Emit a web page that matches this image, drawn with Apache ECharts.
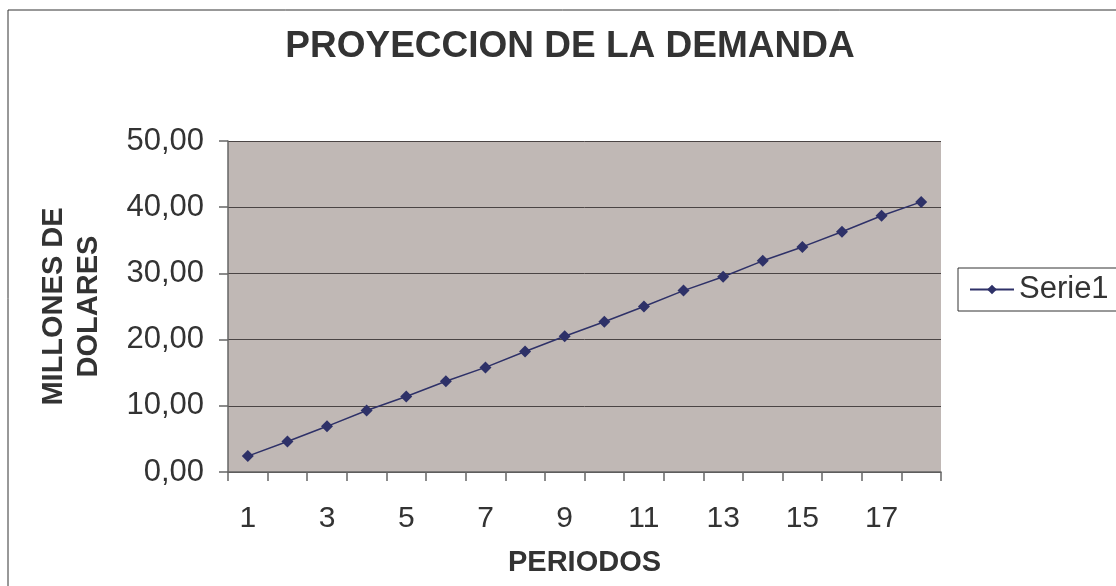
<!DOCTYPE html>
<html>
<head>
<meta charset="utf-8">
<script src="https://cdn.jsdelivr.net/npm/echarts@6/dist/echarts.min.js"></script>
<style>
  html, body { margin: 0; padding: 0; background: #fff; }
  #chart { width: 1116px; height: 586px; }
</style>
</head>
<body>
<div id="chart"></div>
<script>
// datos
const periodos = ['1', '2', '3', '4', '5', '6', '7', '8', '9', '10', '11', '12', '13', '14', '15', '16', '17', '18']
const demanda = [2.4, 4.6, 6.9, 9.3, 11.4, 13.7, 15.8, 18.2, 20.5, 22.7, 25.0, 27.4, 29.5, 31.9, 34.0, 36.3, 38.7, 40.8]

const chart = echarts.init(document.getElementById('chart'))
chart.setOption({
  backgroundColor: '#ffffff',
  animation: false,
  title: {
    text: 'PROYECCION DE LA DEMANDA',
    left: 565,
    textAlign: 'center',
    top: 23,
    textStyle: {
      color: '#333',
      fontFamily: 'Liberation Sans',
      fontSize: 37,
      fontWeight: 'bold'
    }
  },
  graphic: [{
    type: 'rect',
    shape: { x: 8, y: 10, width: 1130, height: 600 },
    style: { fill: 'none', stroke: '#333', lineWidth: 1 },
    silent: true
  }],
  legend: {
    left: 958,
    top: 268,
    orient: 'vertical',
    padding: [6, 60, 6, 11],
    borderColor: '#333',
    borderWidth: 1,
    itemWidth: 44,
    itemHeight: 12,
    itemGap: 4,
    textStyle: { color: '#333', fontFamily: 'Liberation Sans', fontSize: 31 },
    data: ['Serie1']
  },
  grid: {
    left: 228,
    right: 175,
    top: 141,
    bottom: 114,
    show: true,
    backgroundColor: '#c0b8b5',
    borderWidth: 0
  },
  xAxis: {
    type: 'category',
    data: periodos,
    boundaryGap: true,
    name: 'PERIODOS',
    nameLocation: 'middle',
    nameGap: 76,
    nameTextStyle: { color: '#333', fontFamily: 'Liberation Sans', fontSize: 29, fontWeight: 'bold' },
    axisLine: { lineStyle: { color: '#666', width: 1.5 } },
    axisTick: { show: true, interval: 0, length: 9, lineStyle: { color: '#666', width: 1.5 } },
    axisLabel: { interval: 1, margin: 32, color: '#333', fontFamily: 'Liberation Sans', fontSize: 30 }
  },
  yAxis: {
    type: 'value',
    min: 0,
    max: 50,
    interval: 10,
    name: 'MILLONES DE\nDOLARES',
    nameLocation: 'middle',
    nameGap: 122,
    nameTextStyle: { color: '#333', fontFamily: 'Liberation Sans', fontSize: 29, fontWeight: 'bold', lineHeight: 35 },
    axisLine: { show: true, lineStyle: { color: '#666', width: 1.5 } },
    axisTick: { show: true, length: 9, lineStyle: { color: '#666', width: 1.5 } },
    axisLabel: {
      margin: 24,
      color: '#333',
      fontFamily: 'Liberation Sans',
      fontSize: 31,
      formatter: v => v.toFixed(2).replace('.', ',')
    },
    splitLine: { show: true, lineStyle: { color: '#4a4444', width: 1 } }
  },
  series: [{
    name: 'Serie1',
    type: 'line',
    data: demanda,
    symbol: 'diamond',
    symbolSize: 12,
    itemStyle: { color: '#2e3168' },
    lineStyle: { color: '#2e3168', width: 1.5 }
  }]
})
</script>
</body>
</html>
